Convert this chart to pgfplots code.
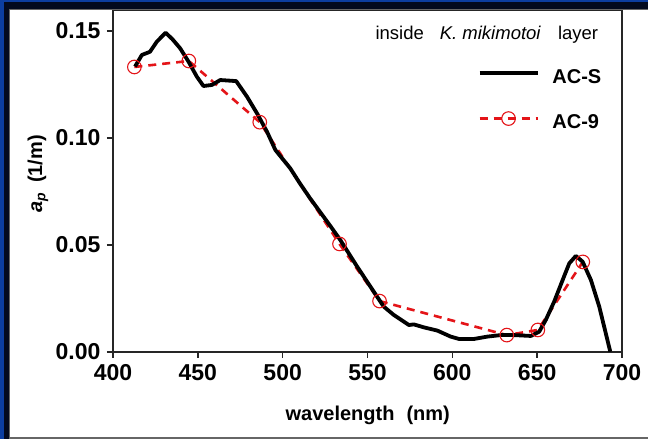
\documentclass[border=0pt]{standalone}
\usepackage{fontspec}
\setmainfont{Liberation Sans}
\usepackage{pgfplots}
\pgfplotsset{compat=1.18}
\definecolor{frameblue}{RGB}{12,62,160}
\definecolor{framenavy}{RGB}{3,10,30}
\definecolor{acred}{RGB}{228,20,24}

\pgfplotstableread{
x y
413.0 0.1334
417.0 0.1388
421.8 0.1403
425.8 0.1450
431.0 0.1492
435.0 0.1462
439.6 0.1419
444.5 0.1357
449.4 0.1287
453.3 0.1243
458.3 0.1248
463.2 0.1271
472.6 0.1266
479.0 0.1193
484.9 0.1115
490.8 0.1029
495.7 0.0944
504.5 0.0858
510.0 0.0790
516.0 0.0720
522.0 0.0655
528.0 0.0590
534.0 0.0523
543.9 0.0399
553.7 0.0282
559.6 0.0212
565.5 0.0173
574.4 0.0126
577.3 0.0129
583.3 0.0115
591.2 0.0100
599.0 0.0072
603.9 0.0061
612.8 0.0061
620.7 0.0072
628.5 0.0079
636.4 0.0079
646.3 0.0075
651.2 0.0095
655.1 0.0150
660.0 0.0235
665.0 0.0336
668.9 0.0414
672.8 0.0449
676.8 0.0422
681.7 0.0336
686.6 0.0212
693.1 0.0001
}\acs

\pgfplotstableread{
x y
412.6 0.1332
444.7 0.1360
486.5 0.1074
533.5 0.0505
557.1 0.0238
632.1 0.0079
650.4 0.0103
676.9 0.0421
}\acnine

\begin{document}
\begin{tikzpicture}[x=1pt,y=1pt]
\fill[frameblue] (0,0) rectangle (648,439);
\fill[framenavy] (4,0) rectangle (648,436.5);
\fill[black!60] (9,0) rectangle (648,430);
\fill[white] (10,2) rectangle (648,429);
\useasboundingbox (0,0) rectangle (648,439);
\begin{axis}[
  at={(113pt,87pt)}, anchor=south west,
  scale only axis, width=509pt, height=341.3pt,
  xmin=400, xmax=700, ymin=0, ymax=0.1595,
  xtick={400,450,500,550,600,650,700},
  ytick={0,0.05,0.1,0.15},
  axis line style={line width=1.6pt, black!85},
  tick align=outside, xtick pos=bottom, ytick pos=left,
  major tick length=6pt,
  tick style={line width=1.5pt, black!85},
  ticklabel style={font=\fontsize{23}{26}\selectfont\bfseries},
  /pgf/number format/assume math mode=true,
  yticklabel style={xshift=-3pt, /pgf/number format/.cd, fixed, fixed zerofill, precision=2},
  xticklabel style={yshift=-3pt, /pgf/number format/1000 sep={}},
  legend image code/.code={\draw[mark repeat=2,mark phase=2,#1] plot coordinates {(0pt,3pt)(29pt,3pt)(58pt,3pt)};},
  legend style={draw=none, fill=none, at={(0.716,0.829)}, anchor=north west,
    inner sep=0pt, font=\fontsize{20}{22}\selectfont\bfseries, row sep=28.5pt,
    nodes={inner sep=0pt, text height=14pt, text depth=0pt},
    /tikz/every odd column/.append style={column sep=13pt}},
  legend cell align=left,
  reverse legend,
]
\addplot[acred, line width=2.6pt, dash pattern=on 8pt off 6pt, mark=o, mark size=6.8pt,
  mark options={solid, line width=1.1pt}] table[x=x,y=y] {\acnine};
\addlegendentry{AC-9}
\addplot[black, line width=3.8pt, line join=round] table[x=x,y=y] {\acs};
\addlegendentry{AC-S}
\node[anchor=base east, font=\fontsize{18.5}{20}\selectfont] at (rel axis cs:0.960,0.916)
  {inside\hspace{16pt}\textit{K. mikimotoi}\hspace{17pt}layer};
\end{axis}
\node[anchor=base, font=\fontsize{20}{24}\selectfont\bfseries] at (367.7,18) {wavelength\hspace{12pt}(nm)};
\node[rotate=90, font=\fontsize{20}{24}\selectfont\bfseries] at (38,265) {\textit{a}\textsubscript{\textit{p}}\hspace{10pt}(1/m)};
\end{tikzpicture}
\end{document}
